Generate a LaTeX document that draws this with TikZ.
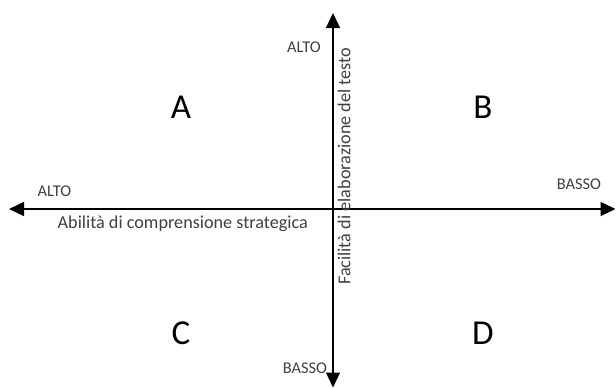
\documentclass[tikz,border=0pt]{standalone}
\usepackage{fontspec}
\setmainfont{Carlito}
\usetikzlibrary{arrows.meta}
\definecolor{txt}{HTML}{404040}

\begin{document}
\begin{tikzpicture}[
  x=1pt, y=-1pt,
  axis/.style={{Triangle[length=15pt,width=14pt]}-{Triangle[length=15pt,width=14pt]}, line width=1.3pt, color=black},
  lvl/.style={font=\fontsize{16.4}{18}\selectfont, text=txt, inner sep=0pt},
  ttl/.style={font=\fontsize{18.2}{20}\selectfont, text=txt, inner sep=0pt},
  quad/.style={font=\fontsize{35}{38}\selectfont, text=black, inner sep=0pt},
]
\useasboundingbox (0,0) rectangle (616,388);

% axes
\coordinate (west) at (9,209);
\coordinate (east) at (615.5,209);
\coordinate (north) at (333,13);
\coordinate (south) at (333,387.5);
\draw[axis] (west) -- (east);
\draw[axis] (south) -- (north);

% labels of the axes
\node[lvl] (altoh) at (54.5,191) {ALTO};
\node[lvl] (bassoh) at (579,184) {BASSO};
\node[lvl] (altov) at (304,47) {ALTO};
\node[lvl] (bassov) at (305,368) {BASSO};
\node[ttl, anchor=north west] (xname) at (57.5,215.5) {Abilità di comprensione strategica};
\node[ttl, rotate=90, anchor=north west] (yname) at (337.5,285) {Facilità di elaborazione del testo};

% quadrants
\node[quad] (qa) at (181,107) {A};
\node[quad] (qb) at (483,107) {B};
\node[quad] (qc) at (181,333) {C};
\node[quad] (qd) at (483,333) {D};
\end{tikzpicture}
\end{document}
